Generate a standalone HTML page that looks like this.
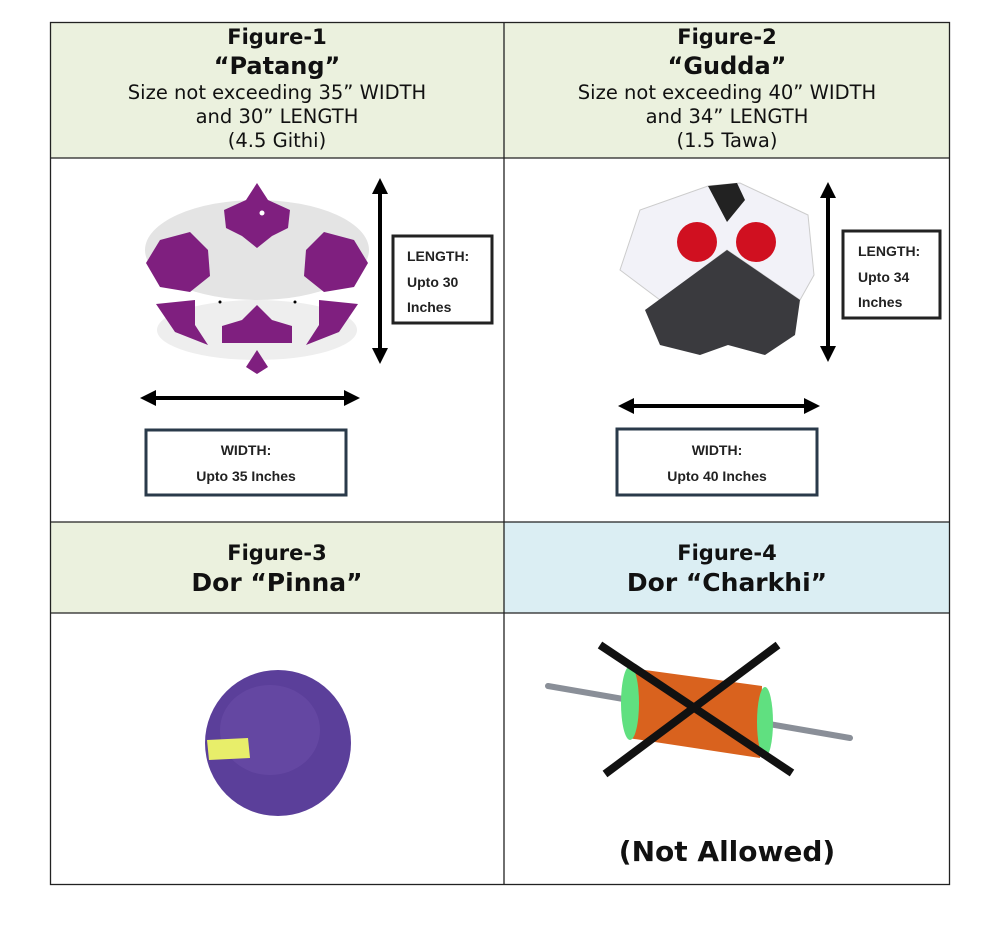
<!DOCTYPE html>
<html><head><meta charset="utf-8"><style>
body{margin:0;background:#fff;}
svg{display:block;}
.h{font-family:"DejaVu Sans","Liberation Sans",sans-serif;text-anchor:middle;fill:#111;}
.b{font-weight:bold;}
.l{font-family:"Liberation Sans",sans-serif;font-weight:bold;font-size:14px;fill:#222;}
</style></head><body>
<svg width="992" height="949" viewBox="0 0 992 949" xmlns="http://www.w3.org/2000/svg">
<defs>
<marker id="a" markerWidth="4" markerHeight="4" refX="2" refY="2" orient="auto-start-reverse" markerUnits="strokeWidth"><path d="M0,0 L4,2 L0,4 z" fill="#000"/></marker>
</defs>
<rect x="0" y="0" width="992" height="949" fill="#fff"/>
<rect x="50" y="22" width="454" height="136" fill="#ebf1de"/>
<rect x="504" y="22" width="446" height="136" fill="#ebf1de"/>
<rect x="50" y="522" width="454" height="91" fill="#ebf1de"/>
<rect x="504" y="522" width="446" height="91" fill="#dbeef3"/>
<g stroke="#222" stroke-width="1.3" fill="none">
<rect x="50.5" y="22.5" width="899" height="862"/>
<line x1="504" y1="22" x2="504" y2="885"/>
<line x1="50" y1="158" x2="950" y2="158"/>
<line x1="50" y1="522" x2="950" y2="522"/>
<line x1="50" y1="613" x2="950" y2="613"/>
</g>
<text class="h b" x="277" y="44" font-size="21">Figure-1</text>
<text class="h b" x="277" y="74" font-size="24">“Patang”</text>
<text class="h" x="277" y="99" font-size="19.5">Size not exceeding 35” WIDTH</text>
<text class="h" x="277" y="123" font-size="19.5">and 30” LENGTH</text>
<text class="h" x="277" y="147" font-size="19.5">(4.5 Githi)</text>
<text class="h b" x="727" y="44" font-size="21">Figure-2</text>
<text class="h b" x="727" y="74" font-size="24">“Gudda”</text>
<text class="h" x="727" y="99" font-size="19.5">Size not exceeding 40” WIDTH</text>
<text class="h" x="727" y="123" font-size="19.5">and 34” LENGTH</text>
<text class="h" x="727" y="147" font-size="19.5">(1.5 Tawa)</text>
<text class="h b" x="277" y="560" font-size="21">Figure-3</text>
<text class="h b" x="277" y="591" font-size="25">Dor “Pinna”</text>
<text class="h b" x="727" y="560" font-size="21">Figure-4</text>
<text class="h b" x="727" y="591" font-size="25">Dor “Charkhi”</text>
<!-- Patang kite -->
<ellipse cx="257" cy="250" rx="112" ry="50" fill="#e4e4e4"/>
<ellipse cx="257" cy="330" rx="100" ry="30" fill="#eeeeee"/>
<g fill="#7f1f7f">
<path d="M257,183 L268,200 L290,210 L288,228 L272,236 L257,248 L242,236 L226,228 L224,210 L246,200 Z"/>
<path d="M146,263 L160,240 L190,232 L208,250 L210,276 L190,292 L160,287 Z"/>
<path d="M368,263 L354,240 L324,232 L306,250 L304,276 L324,292 L354,287 Z"/>
<path d="M156,304 L195,300 L195,325 L208,345 L175,332 Z"/>
<path d="M358,304 L319,300 L319,325 L306,345 L339,332 Z"/>
<path d="M257,305 L272,320 L292,326 L292,343 L222,343 L222,326 L242,320 Z"/>
<path d="M257,350 L268,367 L257,374 L246,367 Z"/>
</g>
<circle cx="262" cy="213" r="2.5" fill="#fff"/>
<circle cx="220" cy="302" r="1.5" fill="#000"/><circle cx="295" cy="302" r="1.5" fill="#000"/>
<line x1="380" y1="186" x2="380" y2="356" stroke="#000" stroke-width="4" marker-start="url(#a)" marker-end="url(#a)"/>
<rect x="393" y="236" width="99" height="87" fill="#fff" stroke="#222" stroke-width="3"/>
<text class="l" x="407" y="261">LENGTH:</text>
<text class="l" x="407" y="287">Upto 30</text>
<text class="l" x="407" y="312">Inches</text>
<line x1="148" y1="398" x2="352" y2="398" stroke="#000" stroke-width="4" marker-start="url(#a)" marker-end="url(#a)"/>
<rect x="146" y="430" width="200" height="65" fill="#fff" stroke="#2a3a4a" stroke-width="3"/>
<text class="l" x="246" y="455" text-anchor="middle">WIDTH:</text>
<text class="l" x="246" y="481" text-anchor="middle">Upto 35 Inches</text>
<!-- Gudda kite -->
<path d="M708,186 L740,183 L808,215 L814,275 L800,300 L727,250 L660,300 L620,270 L640,210 Z" fill="#f2f2f8" stroke="#ccc"/>
<path d="M708,186 L737,183 L745,200 L727,222 Z" fill="#222"/>
<path d="M727,250 L800,300 L795,335 L765,355 L728,345 L700,355 L660,345 L645,310 Z" fill="#3a3a3e"/>
<circle cx="697" cy="242" r="20" fill="#d01020"/>
<circle cx="756" cy="242" r="20" fill="#d01020"/>
<line x1="828" y1="190" x2="828" y2="354" stroke="#000" stroke-width="4" marker-start="url(#a)" marker-end="url(#a)"/>
<rect x="843" y="231" width="97" height="87" fill="#fff" stroke="#222" stroke-width="3"/>
<text class="l" x="858" y="256">LENGTH:</text>
<text class="l" x="858" y="282">Upto 34</text>
<text class="l" x="858" y="307">Inches</text>
<line x1="626" y1="406" x2="812" y2="406" stroke="#000" stroke-width="4" marker-start="url(#a)" marker-end="url(#a)"/>
<rect x="617" y="429" width="200" height="66" fill="#fff" stroke="#2a3a4a" stroke-width="3"/>
<text class="l" x="717" y="455" text-anchor="middle">WIDTH:</text>
<text class="l" x="717" y="481" text-anchor="middle">Upto 40 Inches</text>
<!-- Pinna ball -->
<circle cx="278" cy="743" r="73" fill="#5b3f9a"/>
<ellipse cx="270" cy="730" rx="50" ry="45" fill="#6a4ca8" opacity="0.6"/>
<path d="M207,740 L248,738 L250,758 L209,760 Z" fill="#e8ee6a"/>
<!-- Charkhi -->
<line x1="548" y1="686" x2="850" y2="738" stroke="#8a8f98" stroke-width="6" stroke-linecap="round"/>
<path d="M630,668 L762,686 L760,758 L628,738 Z" fill="#d9621e"/>
<ellipse cx="630" cy="703" rx="9" ry="37" fill="#60e080"/>
<ellipse cx="765" cy="722" rx="8" ry="35" fill="#60e080"/>
<line x1="600" y1="645" x2="792" y2="773" stroke="#111" stroke-width="8"/>
<line x1="778" y1="645" x2="605" y2="774" stroke="#111" stroke-width="8"/>
<text class="h b" x="727" y="861" font-size="28">(Not Allowed)</text>
</svg>
</body></html>
